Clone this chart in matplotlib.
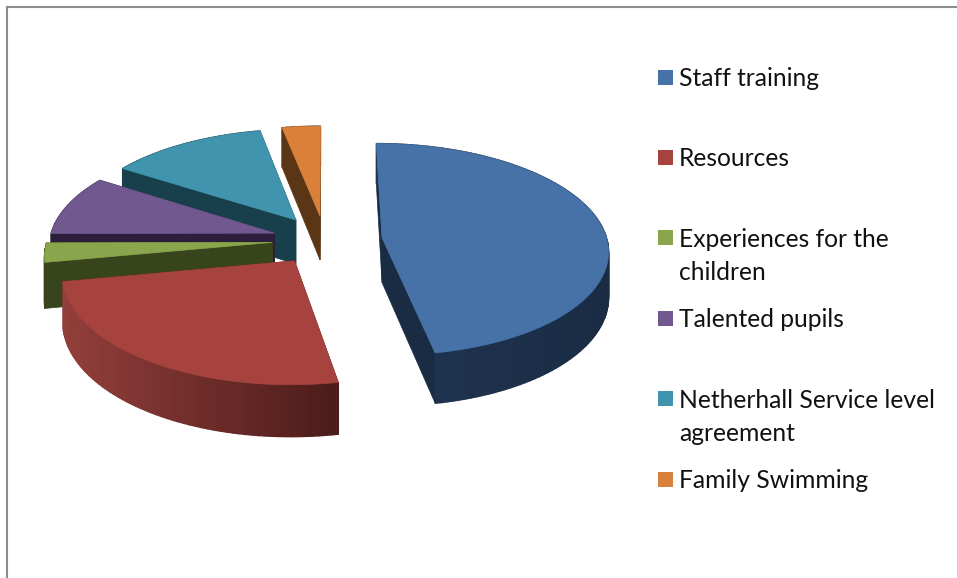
import numpy as np
import matplotlib
matplotlib.use("Agg")
import matplotlib.pyplot as plt
from matplotlib.patches import Polygon, Rectangle
from matplotlib.colors import to_rgb

# data
labels = ["Staff training", "Resources", "Experiences for the\nchildren",
          "Talented pupils", "Netherhall Service level\nagreement", "Family Swimming"]
values = [47.1, 25.0, 2.9, 9.2, 12.8, 3.1]

# styles
top_colors = ["#4672A8", "#A6433F", "#8AA64C", "#71588F", "#4094AE", "#D9803B"]
side_dark = ["#1A2C44", "#4C1C1A", "#38441C", "#2D1F3C", "#17404C", "#5A3516"]
side_light = ["#1F3552", "#933F3B", "#38441C", "#2D1F3C", "#17404C", "#5A3516"]
draw_order = [5, 4, 3, 2, 1, 0]
explode = [0.255, 0.235, 0.235, 0.235, 0.235, 0.235]

# camera (pixel layout)
cx, cy, f, g, k, kx, h = 325, 240, 225, 105, 0.112, 0.11, 45


def project(X, Y, z=0.0):
    X, Y = np.asarray(X, float), np.asarray(Y, float)
    s = 1 / (1 + k * Y)
    sx = 1 / (1 + kx * Y)
    return cx + f * X * sx, cy - g * Y * s + h * z * s


fig = plt.figure(figsize=(9.57, 5.78), dpi=100)
ax = fig.add_axes([0, 0, 1, 1])
ax.set_xlim(0, 957)
ax.set_ylim(578, 0)
ax.axis("off")

# chart frame
ax.plot([7, 7, 957], [578, 7, 7], color="#8C8C8C", lw=1.5, solid_joinstyle="miter")

edges = np.radians(np.concatenate([[0], np.cumsum(values)]) * 360 / sum(values))


def lerp(c1, c2, t):
    a, b = np.array(to_rgb(c1)), np.array(to_rgb(c2))
    return tuple(a + (b - a) * t)


for i in draw_order:
    t0, t1 = edges[i], edges[i + 1]
    mid = (t0 + t1) / 2
    ax0, ay0 = explode[i] * np.sin(mid), explode[i] * np.cos(mid)
    th = np.linspace(t0, t1, max(int((t1 - t0) * 40), 8))
    X, Y = ax0 + np.sin(th), ay0 + np.cos(th)

    # radial faces
    for tt in (t0, t1):
        ex, ey = ax0 + np.sin(tt), ay0 + np.cos(tt)
        xt, yt = project([ax0, ex], [ay0, ey], 0)
        xb, yb = project([ax0, ex], [ay0, ey], 1)
        ax.add_patch(Polygon(np.column_stack([np.r_[xt, xb[::-1]], np.r_[yt, yb[::-1]]]),
                             fc=side_dark[i], ec=side_dark[i], lw=0.5))

    # outer rim, shaded along its length
    xt, yt = project(X, Y, 0)
    xb, yb = project(X, Y, 1)
    x_lo, x_hi = xt.min(), xt.max()
    for j in range(len(th) - 1):
        tx = (xt[j] - x_lo) / max(x_hi - x_lo, 1)
        col = lerp(side_light[i], side_dark[i], tx)
        ax.add_patch(Polygon([(xt[j], yt[j]), (xt[j + 1], yt[j + 1]),
                              (xb[j + 1], yb[j + 1]), (xb[j], yb[j])],
                             fc=col, ec=col, lw=1.0))

    # top face
    ox, oy = project(ax0, ay0, 0)
    ax.add_patch(Polygon(np.column_stack([np.r_[ox, xt], np.r_[oy, yt]]),
                         fc=top_colors[i], ec=top_colors[i], lw=0.5))

# legend
row_h = 80.4
for i, lab in enumerate(labels):
    yc = 77 + i * row_h
    ax.add_patch(Rectangle((658, yc - 7.5), 15, 15, fc=top_colors[i], ec="none"))
    for n, line in enumerate(lab.split("\n")):
        ax.text(679, yc + 1.5 + n * 33, line, fontsize=17.7, family="Lato", color="#111111",
                va="center", ha="left")

fig.savefig("out.png", dpi=100)
